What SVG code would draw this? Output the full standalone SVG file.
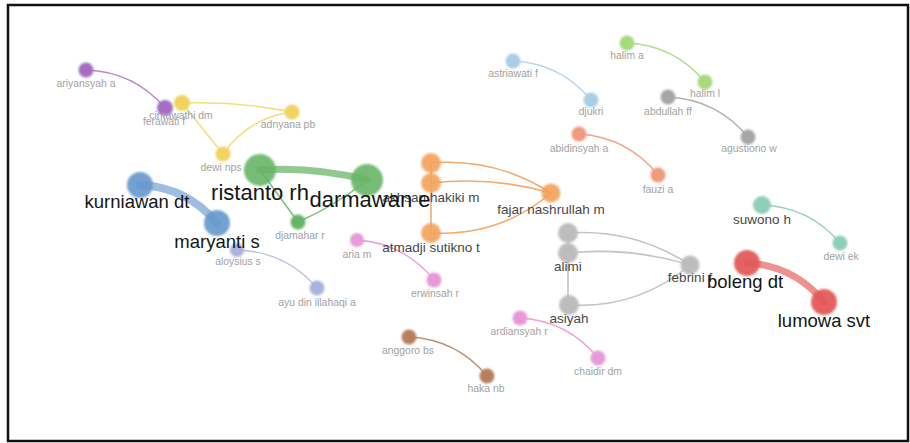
<svg xmlns="http://www.w3.org/2000/svg" width="910" height="443" viewBox="0 0 910 443">
<defs>
<filter id="soft" x="-50%" y="-50%" width="200%" height="200%"><feGaussianBlur stdDeviation="0.8"/></filter>
</defs>
<style>
text{font-family:"Liberation Sans",Arial,sans-serif;text-anchor:middle}
.s{font-size:10.4px;fill:#a2a2a2}
.m{font-size:13.5px;fill:#474747}
.l{font-size:18.5px;fill:#151515}
.xl{font-size:22px;fill:#151515}
circle{filter:url(#soft)}
#edges path{fill:none;stroke-linecap:round}
.purple{fill:#a56ec4}.ePurple{stroke:#b58ad0}
.yellow{fill:#f1d35e}.eYellow{stroke:#f3dc7a}
.green{fill:#68b468}.eGreen{stroke:#7cc07c}
.blue{fill:#6597cc}.eBlue{stroke:#8db3dc}
.orange{fill:#f3a25a}.eOrange{stroke:#f3ab70}
.lav{fill:#a9b3dc}.eLav{stroke:#b9c0e3}
.pink{fill:#e89ad8}.ePink{stroke:#ec9ede}
.lblue{fill:#aacde6}.eLblue{stroke:#b8d6ec}
.lime{fill:#a9d97e}.eLime{stroke:#b3dd8b}
.gray{fill:#bdbdbd}.eGray{stroke:#c4c4c4}
.dgray{fill:#a6a6a6}.eDgray{stroke:#b3b3b3}
.salmon{fill:#f09a7e}.eSalmon{stroke:#f2a48c}
.teal{fill:#8fcfb8}.eTeal{stroke:#98d3be}
.red{fill:#e35a5a}.eRed{stroke:#ec8585}
.brown{fill:#b5805f}.eBrown{stroke:#c0906f}
</style>
<rect x="8" y="5" width="900" height="436" fill="#fff" stroke="#111" stroke-width="2.5"/>
<g id="edges">
<path class="ePurple" stroke-width="1.3" d="M86,70 Q134,71.6 165,108"/>
<path class="eYellow" stroke-width="1.4" d="M182,103 Q237.5,101 292,112"/>
<path class="eYellow" stroke-width="1.4" d="M182,103 L223,154"/>
<path class="eYellow" stroke-width="1.4" d="M223,154 Q248.3,117.8 292,112"/>
<path class="eGreen" stroke-width="7" opacity="0.85" d="M260,170 Q314.3,166.4 367,180"/>
<path class="eGreen" stroke-width="1.5" d="M260,170 L298,222"/>
<path class="eGreen" stroke-width="1.5" d="M367,180 Q335,206 298,222"/>
<path class="eBlue" stroke-width="8" opacity="0.85" d="M140,185 Q186.9,187.1 217,223"/>
<path class="eLav" stroke-width="1.3" d="M237,250 Q285.4,251.4 317,288"/>
<path class="ePink" stroke-width="1.3" d="M357,240 Q404.3,243.1 434,280"/>
<path class="eOrange" stroke-width="1.6" d="M431,163 L431,233"/>
<path class="eOrange" stroke-width="1.6" d="M431,163 Q496,157.6 551,193"/>
<path class="eOrange" stroke-width="1.6" d="M431,183 Q492,176 551,193"/>
<path class="eOrange" stroke-width="1.6" d="M551,193 Q499.5,236.8 431,233"/>
<path class="eLblue" stroke-width="1.3" d="M513,61 Q560.6,63.3 591,100"/>
<path class="eLime" stroke-width="1.3" d="M627,43 Q674.6,45.3 705,82"/>
<path class="eDgray" stroke-width="1.3" d="M668,97 Q716.8,99.4 748,137"/>
<path class="eSalmon" stroke-width="1.3" d="M579,134 Q627.5,137.1 658,175"/>
<path class="eGray" stroke-width="1.6" d="M568,233 L568,305"/>
<path class="eGray" stroke-width="1.6" d="M568,233 Q634.4,228.3 690,265"/>
<path class="eGray" stroke-width="1.6" d="M568,253 Q630.2,246.8 690,265"/>
<path class="eGray" stroke-width="1.6" d="M690,265 Q637.5,309.2 568,305"/>
<path class="eTeal" stroke-width="1.3" d="M762,205 Q809.4,206.8 840,243"/>
<path class="eRed" stroke-width="7" opacity="0.9" d="M747,263 Q794.1,265.6 824,302"/>
<path class="ePink" stroke-width="1.3" d="M520,318 Q567.8,320.8 598,358"/>
<path class="eBrown" stroke-width="1.3" d="M409,337 Q456.6,339.3 487,376"/>
</g>
<g id="n-ariyansyah"><circle class="purple" cx="86" cy="70" r="7.5"/><text class="s" x="86" y="87">ariyansyah a</text></g>
<g id="n-ferawati"><circle class="purple" cx="165" cy="108" r="8"/></g>
<g id="n-cintawathi"><circle class="yellow" cx="182" cy="103" r="8"/><text class="s" x="181" y="119">cintawathi dm</text></g>
<g id="n-ferawati-label"><text class="s" x="164" y="125">ferawati f</text></g>
<g id="n-adnyana"><circle class="yellow" cx="292" cy="112" r="7.5"/><text class="s" x="288" y="128">adnyana pb</text></g>
<g id="n-dewinps"><circle class="yellow" cx="223" cy="154" r="7.5"/><text class="s" x="221" y="171">dewi nps</text></g>
<g id="n-ristanto"><circle class="green" cx="260" cy="170" r="16" opacity="0.9"/><text class="xl" x="260" y="200">ristanto rh</text></g>
<g id="n-djamahar"><circle class="green" cx="298" cy="222" r="7.5"/><text class="s" x="300" y="239">djamahar r</text></g>
<g id="n-kurniawan"><circle class="blue" cx="140" cy="185" r="13" opacity="0.9"/><text class="l" x="137" y="208">kurniawan dt</text></g>
<g id="n-maryanti"><circle class="blue" cx="217" cy="223" r="13" opacity="0.9"/></g>
<g id="n-aloysius"><circle class="lav" cx="237" cy="250" r="7"/><text class="s" x="238" y="265">aloysius s</text></g>
<g id="n-maryanti-label"><text class="l" x="217" y="248">maryanti s</text></g>
<g id="n-ayu"><circle class="lav" cx="317" cy="288" r="7.5"/><text class="s" x="317" y="306">ayu din illahaqi a</text></g>
<g id="n-aria"><circle class="pink" cx="357" cy="240" r="7"/><text class="s" x="357" y="258">aria m</text></g>
<g id="n-erwinsah"><circle class="pink" cx="434" cy="280" r="7.5"/><text class="s" x="435" y="297">erwinsah r</text></g>
<g id="n-akhsan"><circle class="orange" cx="431" cy="163" r="10" opacity="0.9"/><circle class="orange" cx="431" cy="183" r="10" opacity="0.9"/><text class="m" x="431" y="202">akhsan hakiki m</text></g>
<g id="n-darmawan"><circle class="green" cx="367" cy="180" r="16" opacity="0.9"/><text class="xl" x="370" y="207">darmawan e</text></g>
<g id="n-atmadji"><circle class="orange" cx="431" cy="233" r="10" opacity="0.9"/><text class="m" x="431" y="252">atmadji sutikno t</text></g>
<g id="n-fajar"><circle class="orange" cx="551" cy="193" r="9.5" opacity="0.9"/><text class="m" x="551" y="214">fajar nashrullah m</text></g>
<g id="n-astriawati"><circle class="lblue" cx="513" cy="61" r="7.5"/><text class="s" x="513" y="77">astriawati f</text></g>
<g id="n-djukri"><circle class="lblue" cx="591" cy="100" r="7.5"/><text class="s" x="591" y="115">djukri</text></g>
<g id="n-halima"><circle class="lime" cx="627" cy="43" r="7.5"/><text class="s" x="627" y="59">halim a</text></g>
<g id="n-haliml"><circle class="lime" cx="705" cy="82" r="7.5"/><text class="s" x="705" y="97">halim l</text></g>
<g id="n-abdullah"><circle class="dgray" cx="668" cy="97" r="7.5"/><text class="s" x="668" y="115">abdullah ff</text></g>
<g id="n-agustiono"><circle class="dgray" cx="748" cy="137" r="7.5"/><text class="s" x="749" y="152">agustiono w</text></g>
<g id="n-abidinsyah"><circle class="salmon" cx="579" cy="134" r="7.5"/><text class="s" x="579" y="152">abidinsyah a</text></g>
<g id="n-fauzi"><circle class="salmon" cx="658" cy="175" r="7.5"/><text class="s" x="658" y="193">fauzi a</text></g>
<g id="n-alimi"><circle class="gray" cx="568" cy="233" r="10"/><circle class="gray" cx="568" cy="253" r="10"/><text class="m" x="568" y="271">alimi</text></g>
<g id="n-asiyah"><circle class="gray" cx="569" cy="305" r="10"/><text class="m" x="569" y="323">asiyah</text></g>
<g id="n-febrini"><circle class="gray" cx="690" cy="265" r="9.5"/><text class="m" x="690" y="282">febrini f</text></g>
<g id="n-suwono"><circle class="teal" cx="762" cy="205" r="9"/><text class="m" x="762" y="224">suwono h</text></g>
<g id="n-dewiek"><circle class="teal" cx="840" cy="243" r="7.5"/><text class="s" x="841" y="260">dewi ek</text></g>
<g id="n-boleng"><circle class="red" cx="747" cy="263" r="13" opacity="0.95"/><text class="l" x="745" y="288">boleng dt</text></g>
<g id="n-lumowa"><circle class="red" cx="824" cy="302" r="13" opacity="0.95"/><text class="l" x="824" y="327">lumowa svt</text></g>
<g id="n-ardiansyah"><circle class="pink" cx="520" cy="318" r="7.5"/><text class="s" x="519" y="335">ardiansyah r</text></g>
<g id="n-chaidir"><circle class="pink" cx="598" cy="358" r="7.5"/><text class="s" x="598" y="375">chaidir dm</text></g>
<g id="n-anggoro"><circle class="brown" cx="409" cy="337" r="7.5"/><text class="s" x="408" y="354">anggoro bs</text></g>
<g id="n-haka"><circle class="brown" cx="487" cy="376" r="7.5"/><text class="s" x="486" y="392">haka nb</text></g>
</svg>
